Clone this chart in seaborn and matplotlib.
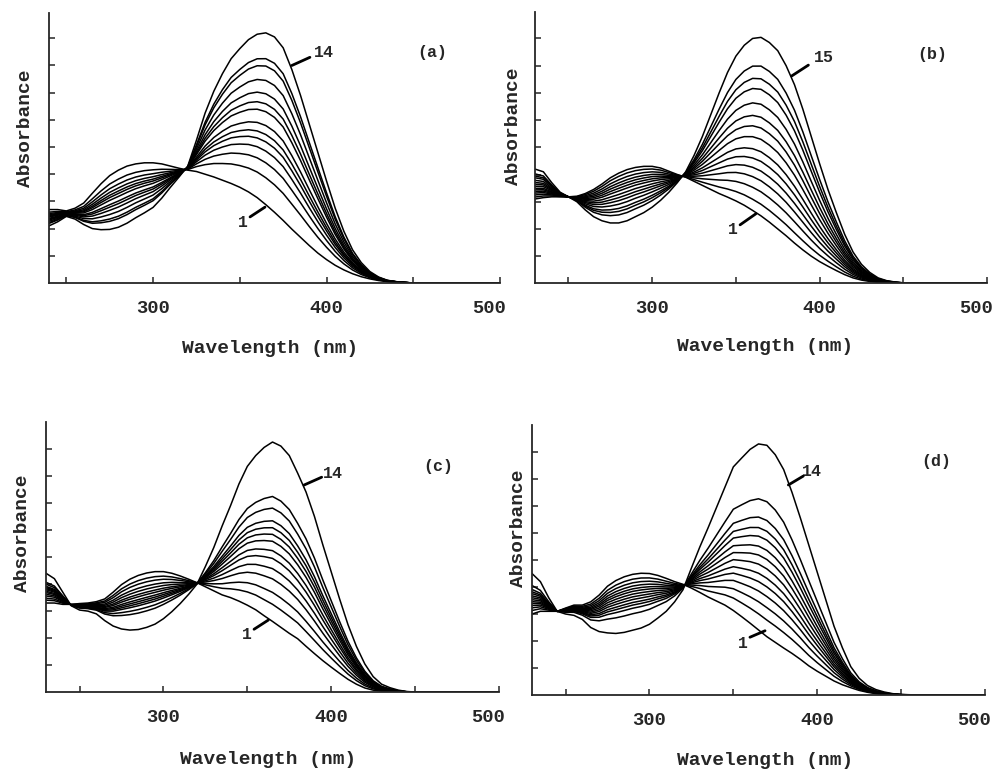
import numpy as np
import pandas as pd
import matplotlib
matplotlib.use("Agg")
import matplotlib.pyplot as plt
import matplotlib.transforms as mtransforms
import seaborn as sns

# wavelength grid (nm) shared by all panels
wavelength = list(range(230, 455, 5)) + [460, 480, 500]

# first (trace 1) and last spectrum of each titration
a_first = [0.25, 0.26, 0.27, 0.27, 0.265, 0.275, 0.294, 0.33, 0.365, 0.395,
           0.415, 0.43, 0.438, 0.442, 0.442, 0.438, 0.43, 0.422, 0.415, 0.41,
           0.40, 0.39, 0.378, 0.366, 0.352, 0.335, 0.314, 0.288, 0.26, 0.23,
           0.198, 0.168, 0.138, 0.11, 0.086, 0.065, 0.048, 0.034, 0.023, 0.015,
           0.009, 0.005, 0.003, 0.001, 0.0, 0.0, 0.0, 0.0]
a_last = [0.22, 0.215, 0.21, 0.225, 0.245, 0.235, 0.215, 0.2, 0.196, 0.197,
          0.205, 0.22, 0.24, 0.258, 0.278, 0.312, 0.352, 0.39, 0.43, 0.525,
          0.625, 0.705, 0.77, 0.825, 0.862, 0.895, 0.915, 0.92, 0.905, 0.865,
          0.785, 0.69, 0.585, 0.48, 0.375, 0.275, 0.19, 0.122, 0.075, 0.042,
          0.022, 0.01, 0.005, 0.002, 0.0, 0.0, 0.0, 0.0]

b_first = [0.31, 0.315, 0.318, 0.318, 0.318, 0.32, 0.33, 0.345, 0.365, 0.388,
           0.405, 0.418, 0.426, 0.43, 0.43, 0.424, 0.412, 0.40, 0.39, 0.375,
           0.36, 0.345, 0.33, 0.317, 0.303, 0.287, 0.268, 0.248, 0.225, 0.2,
           0.175, 0.148, 0.123, 0.1, 0.08, 0.063, 0.047, 0.032, 0.02, 0.012,
           0.007, 0.004, 0.002, 0.001, 0.0, 0.0, 0.0, 0.0]
b_last = [0.42, 0.41, 0.37, 0.335, 0.318, 0.30, 0.27, 0.245, 0.23, 0.222,
          0.222, 0.23, 0.245, 0.26, 0.28, 0.305, 0.335, 0.37, 0.41, 0.47,
          0.54, 0.62, 0.70, 0.775, 0.835, 0.875, 0.9, 0.904, 0.885, 0.855,
          0.8, 0.73, 0.64, 0.54, 0.44, 0.345, 0.26, 0.18, 0.115, 0.07,
          0.04, 0.02, 0.01, 0.005, 0.002, 0.0, 0.0, 0.0]

c_first = [0.33, 0.33, 0.325, 0.325, 0.328, 0.33, 0.335, 0.345, 0.37, 0.398,
           0.418, 0.432, 0.441, 0.446, 0.446, 0.44, 0.43, 0.418, 0.405, 0.39,
           0.375, 0.36, 0.35, 0.337, 0.322, 0.305, 0.283, 0.262, 0.24, 0.218,
           0.198, 0.17, 0.143, 0.117, 0.093, 0.07, 0.048, 0.03, 0.016, 0.008,
           0.004, 0.002, 0.001, 0.0, 0.0, 0.0, 0.0, 0.0]
c_last = [0.44, 0.42, 0.37, 0.32, 0.304, 0.30, 0.29, 0.265, 0.245, 0.234,
          0.23, 0.232, 0.24, 0.252, 0.272, 0.298, 0.328, 0.362, 0.40, 0.465,
          0.535, 0.615, 0.69, 0.77, 0.835, 0.875, 0.905, 0.925, 0.91, 0.875,
          0.81, 0.74, 0.65, 0.545, 0.445, 0.345, 0.25, 0.17, 0.105, 0.058,
          0.03, 0.017, 0.008, 0.003, 0.001, 0.0, 0.0, 0.0]

d_first = [0.30, 0.31, 0.31, 0.31, 0.322, 0.333, 0.333, 0.345, 0.37, 0.403,
           0.424, 0.438, 0.447, 0.451, 0.45, 0.443, 0.432, 0.42, 0.41, 0.396,
           0.38, 0.363, 0.348, 0.333, 0.313, 0.29, 0.266, 0.241, 0.216, 0.195,
           0.174, 0.154, 0.132, 0.108, 0.088, 0.07, 0.052, 0.038, 0.027, 0.017,
           0.01, 0.005, 0.002, 0.001, 0.0, 0.0, 0.0, 0.0]
d_last = [0.45, 0.42, 0.36, 0.31, 0.30, 0.295, 0.28, 0.25, 0.235, 0.23,
          0.228, 0.232, 0.24, 0.248, 0.262, 0.285, 0.31, 0.345, 0.39, 0.47,
          0.548, 0.62, 0.695, 0.77, 0.845, 0.878, 0.91, 0.93, 0.925, 0.89,
          0.835, 0.75, 0.655, 0.555, 0.455, 0.355, 0.255, 0.175, 0.105, 0.062,
          0.035, 0.02, 0.011, 0.005, 0.002, 0.0, 0.0, 0.0]

# absorbance of every trace near 365 nm (trace 1 ... last)
a_levels = [0.288, 0.387, 0.442, 0.485, 0.519, 0.546, 0.579, 0.630, 0.659,
            0.696, 0.745, 0.798, 0.825, 0.92]
b_levels = [0.258, 0.30, 0.345, 0.385, 0.42, 0.455, 0.49, 0.535, 0.576,
            0.615, 0.662, 0.716, 0.754, 0.80, 0.904]
c_levels = [0.273, 0.335, 0.378, 0.427, 0.464, 0.501, 0.529, 0.563, 0.588,
            0.612, 0.637, 0.683, 0.725, 0.922]
d_levels = [0.24, 0.30, 0.345, 0.385, 0.42, 0.451, 0.485, 0.519, 0.552,
            0.589, 0.621, 0.66, 0.728, 0.932]

x_ticks = [250, 300, 350, 400, 450, 500]
x_ticklabels = ["", "300", "", "400", "", "500"]
y_ticks = [0.1, 0.2, 0.3, 0.4, 0.5, 0.6, 0.7, 0.8, 0.9]


def family(first, last, levels):
    # the traces share isosbestic points, so each one lies between the
    # first and the last spectrum at the fraction given by its 365 nm height
    first = np.array(first)
    last = np.array(last)
    lv = np.array(levels)
    frac = (lv - lv[0]) / (lv[-1] - lv[0])
    parts = []
    for k, f in enumerate(frac, start=1):
        parts.append(pd.DataFrame({"wavelength": wavelength,
                                   "absorbance": first + f * (last - first),
                                   "trace": k}))
    return pd.concat(parts, ignore_index=True)


sns.set_style("ticks")
plt.rcParams["font.family"] = ["Liberation Mono", "DejaVu Sans Mono"]
plt.rcParams["font.weight"] = "bold"

fig = plt.figure(figsize=(10, 7.7), dpi=100)

panels = [
    dict(tag="(a)", first=a_first, last=a_last, levels=a_levels,
         rect=[0.049, 0.6325, 0.451, 0.3506], xlim=(240, 500), ytop=0.993,
         top="14", top_xy=(398.5, 0.846), top_line=((380, 0.80), (390.4, 0.83)),
         tag_xy=(460.7, 0.846), one_xy=(351.8, 0.224),
         one_line=((355.9, 0.243), (364.5, 0.279)),
         xl=(0.49, -0.211), yl=(-0.033, 0.574)),
    dict(tag="(b)", first=b_first, last=b_last, levels=b_levels,
         rect=[0.535, 0.632, 0.452, 0.352], xlim=(230, 500), ytop=0.996,
         top="15", top_xy=(402.6, 0.831), top_line=((383.3, 0.762), (393.3, 0.802)),
         tag_xy=(467.2, 0.842), one_xy=(348.5, 0.197),
         one_line=((352.5, 0.215), (362, 0.256)),
         xl=(0.509, -0.2), yl=(-0.028, 0.58)),
    dict(tag="(c)", first=c_first, last=c_last, levels=c_levels,
         rect=[0.046, 0.1009, 0.453, 0.3514], xlim=(230, 500), ytop=1.0,
         top="14", top_xy=(401.2, 0.807), top_line=((383.8, 0.766), (394.3, 0.795)),
         tag_xy=(463.8, 0.834), one_xy=(349.6, 0.212),
         one_line=((354, 0.233), (362.5, 0.267)),
         xl=(0.49, -0.217), yl=(-0.034, 0.588)),
    dict(tag="(d)", first=d_first, last=d_last, levels=d_levels,
         rect=[0.532, 0.0974, 0.453, 0.3506], xlim=(230, 500), ytop=1.0,
         top="14", top_xy=(396.7, 0.827), top_line=((382.8, 0.778), (391.7, 0.811)),
         tag_xy=(471.2, 0.864), one_xy=(355.9, 0.191),
         one_line=((359.9, 0.214), (368.9, 0.238)),
         xl=(0.514, -0.211), yl=(-0.012, 0.617)),
]

shift_left = mtransforms.ScaledTranslation(-8 / 72, 0, fig.dpi_scale_trans)

for p in panels:
    ax = fig.add_axes(p["rect"])
    df = family(p["first"], p["last"], p["levels"])
    sns.lineplot(data=df, x="wavelength", y="absorbance", units="trace",
                 estimator=None, sort=False, color="black", lw=1.1, ax=ax)
    ax.set_xlim(*p["xlim"])
    ax.set_ylim(0, p["ytop"])
    sns.despine(ax=ax)
    for s in ["left", "bottom"]:
        ax.spines[s].set_linewidth(1.3)
    ax.set_xticks(x_ticks)
    ax.set_xticklabels(x_ticklabels)
    ax.set_yticks(y_ticks)
    ax.set_yticklabels([])
    ax.tick_params(direction="in", length=4, width=1.1, labelsize=13.5, pad=12)
    last_label = ax.get_xticklabels()[-1]
    last_label.set_transform(last_label.get_transform() + shift_left)
    ax.set_xlabel("Wavelength (nm)", fontsize=14, fontweight="bold")
    ax.set_ylabel("Absorbance", fontsize=14, fontweight="bold")
    ax.xaxis.set_label_coords(*p["xl"])
    ax.yaxis.set_label_coords(*p["yl"])

    ax.text(*p["top_xy"], p["top"], ha="center", va="center", fontsize=12, fontweight="bold")
    ax.text(*p["tag_xy"], p["tag"], ha="center", va="center", fontsize=12, fontweight="bold")
    ax.text(*p["one_xy"], "1", ha="center", va="center", fontsize=12, fontweight="bold")
    for (x0, y0), (x1, y1) in [p["top_line"], p["one_line"]]:
        ax.annotate("", xy=(x1, y1), xytext=(x0, y0),
                    arrowprops=dict(arrowstyle="-", lw=2, color="black",
                                    shrinkA=0, shrinkB=0))

fig.savefig("out.png", dpi=100)
